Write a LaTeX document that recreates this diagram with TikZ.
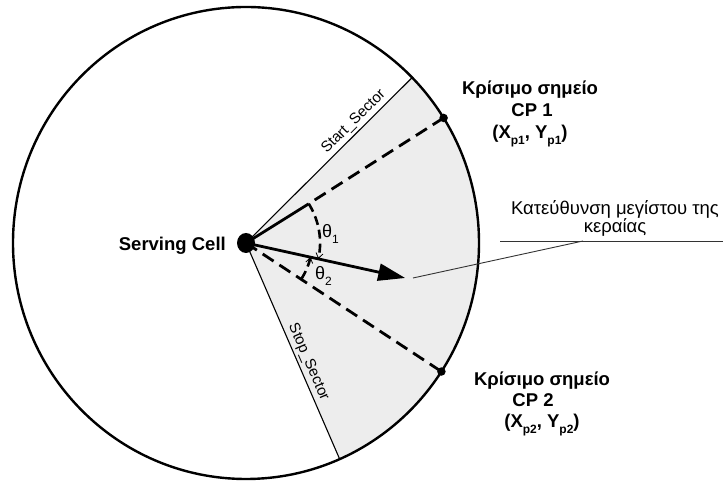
\documentclass[tikz,border=0pt]{standalone}
\usepackage{fontspec}
\setmainfont{Liberation Sans}
\usetikzlibrary{arrows.meta,calc,shapes.geometric}
\newcommand{\lowsub}[1]{\raisebox{-0.32em}{\fontsize{12}{12}\selectfont #1}}
\begin{document}
\begin{tikzpicture}[x=1pt,y=1pt,
  boldtext/.style={font=\fontsize{18.5}{22}\selectfont\bfseries, inner sep=0pt},
  regtext/.style={font=\fontsize{18.5}{22}\selectfont, inner sep=0pt},
  sectorlabel/.style={font=\fontsize{15}{18}\selectfont, inner sep=2.5pt},
  thetatext/.style={font=\fontsize{18}{20}\selectfont, inner sep=0pt},
  thinline/.style={line width=1.1pt},
  dashline/.style={line width=2.8pt, dash pattern=on 13pt off 7pt},
  dasharc/.style={line width=2.6pt, dash pattern=on 9pt off 5pt},
  smalltip/.style={-{Straight Barb[length=5pt,width=7pt,line width=0.8pt]}},
  cpdot/.style={circle, fill=black, inner sep=0pt, minimum size=8.5pt},
  leader/.style={line width=0.9pt, black!80}
]
\useasboundingbox (0,0) rectangle (723,481);
\coordinate (C) at (246,238);
% shaded sector
\fill[black!7] (C) -- ($(C)+(-66.3:233pt and 236pt)$)
  arc[start angle=-66.3, end angle=44.5, x radius=233pt, y radius=236pt] -- cycle;
% cell boundary
\draw[line width=2.4pt] (C) ellipse [x radius=233pt, y radius=236pt];
% points
\coordinate (S1) at ($(C)+(44.5:233pt and 236pt)$);
\coordinate (S2) at ($(C)+(-66.3:233pt and 236pt)$);
\coordinate (P1) at ($(C)+(32:233pt and 236pt)$);
\coordinate (P2) at ($(C)+(-33:233pt and 236pt)$);
\coordinate (T) at ($(C)+(-12.4:163pt)$);
\coordinate (A1) at ($(C)+(32:74pt)$);
\coordinate (A2) at ($(C)+(-33:66pt)$);
% sector borders
\draw[thinline] (C) -- (S1) node[pos=0.69, sloped, above, sectorlabel] (startlab) {Start\_Sector};
\draw[thinline] (C) -- (S2) node[pos=0.57, sloped, above, sectorlabel] (stoplab) {Stop\_Sector};
% critical point lines
\draw[line width=2.8pt] (C) -- (A1);
\draw[dashline, dash phase=13pt] (A1) -- (P1);
\draw[dashline] (C) -- (P2);
% angle arcs
\draw[dasharc, smalltip] (A1) arc[start angle=32, end angle=-12.4, radius=74pt];
\draw[dasharc, smalltip] (A2) arc[start angle=-33, end angle=-12.4, radius=66pt];
% main direction arrow
\draw[line width=2.8pt, -{Triangle[length=27pt,width=17pt]}] (C) -- (T);
% serving cell
\node[ellipse, fill=black, inner sep=0pt, minimum width=18pt, minimum height=20pt] (sc) at (C) {};
\node[boldtext, anchor=base east] (sclab) at (226,230) {Serving Cell};
% critical point dots
\node[cpdot] (cp1) at (P1) {};
\node[cpdot] (cp2) at (P2) {};
% theta labels
\node[thetatext, anchor=base west] (th1) at (322,243) {θ\lowsub{1}};
\node[thetatext, anchor=base west] (th2) at (315,201) {θ\lowsub{2}};
% CP labels
\node[boldtext, anchor=base] (k1) at (530,386) {Κρίσιμο σημείο};
\node[boldtext, anchor=base] (c1) at (532,364) {CP 1};
\node[boldtext, anchor=base] (x1) at (530,342) {(X\lowsub{p1}, Y\lowsub{p1})};
\node[boldtext, anchor=base] (k2) at (542,95) {Κρίσιμο σημείο};
\node[boldtext, anchor=base] (c2) at (533,74) {CP 2};
\node[boldtext, anchor=base] (x2) at (542,53) {(X\lowsub{p2}, Y\lowsub{p2})};
% antenna direction label
\node[regtext, anchor=base] (d1) at (615,266) {Κατεύθυνση μεγίστου της};
\node[regtext, anchor=base] (d2) at (615,248) {κεραίας};
\coordinate (L1) at (500,240);
\coordinate (L2) at (723,240);
\coordinate (LJ) at (583,240);
\coordinate (LE) at (413,203);
\draw[leader] (L1) -- (L2);
\draw[leader] (LE) -- (LJ);
\end{tikzpicture}
\end{document}
